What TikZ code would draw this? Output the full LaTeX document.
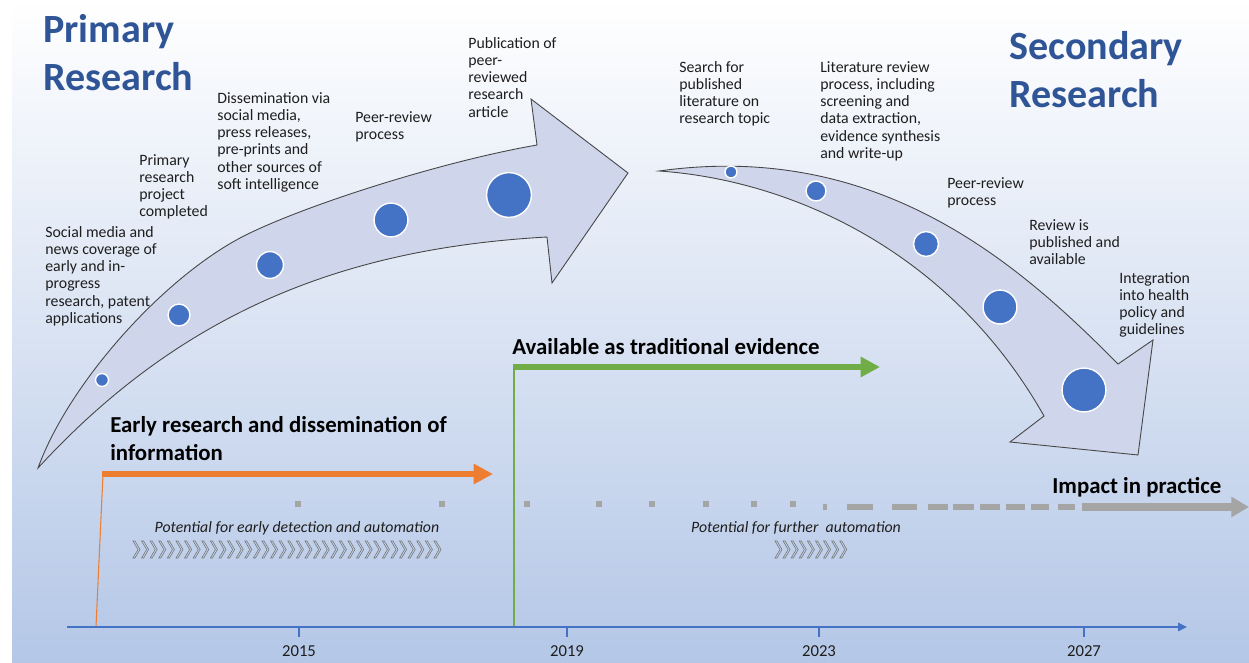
\documentclass[tikz,border=0pt]{standalone}
\usepackage{fontspec}
\setmainfont{Carlito}
\usepackage{tikz}
\usetikzlibrary{arrows.meta}

\definecolor{bgblue}{RGB}{180,199,231}
\definecolor{bgmid}{RGB}{236,241,249}
\definecolor{titleblue}{RGB}{47,85,151}
\definecolor{dotblue}{RGB}{68,114,196}
\definecolor{arrowfill}{RGB}{207,213,234}
\definecolor{edgegray}{RGB}{70,70,70}
\definecolor{textgray}{RGB}{30,30,30}
\definecolor{phaseorange}{RGB}{237,125,49}
\definecolor{phasegreen}{RGB}{112,173,71}
\definecolor{dashgray}{RGB}{165,165,165}
\definecolor{chevgray}{RGB}{120,120,120}

\begin{document}
\begin{tikzpicture}[
  x=0.02cm, y=-0.02cm,
  note/.style={anchor=north west, inner sep=0pt, align=left, text=textgray,
    font=\fontsize{9}{9.8}\selectfont},
  title/.style={anchor=north west, inner sep=0pt, align=left, text=titleblue,
    font=\fontsize{22.8}{27.2}\selectfont\bfseries},
  phase/.style={anchor=north west, inner sep=0pt, align=left, text=black,
    font=\fontsize{13}{16}\selectfont\bfseries},
  hint/.style={anchor=base, inner sep=0pt, text=textgray,
    font=\fontsize{9}{10}\selectfont\itshape},
  year/.style={inner sep=0pt, text=textgray, font=\fontsize{9.5}{10}\selectfont},
  dot/.style={circle, fill=dotblue, draw=white, line width=0.8pt, inner sep=0pt},
  bigarrow/.style={fill=arrowfill, draw=edgegray, line width=0.5pt, line join=miter},
  chev/.style={draw=chevgray, line width=0.35pt},
  phasearrow/.style={-{Triangle[length=11pt, width=11pt]}, line width=3.8pt},
  axis/.style={-{Triangle[length=5pt, width=4.5pt]}, draw=dotblue, line width=1.3pt}
]
  \useasboundingbox (0,0) rectangle (1249,663);
  \fill[white] (0,0) rectangle (1249,663);
  \shade[top color=white, middle color=bgmid, bottom color=bgblue] (12,0) rectangle (1249,663);

  \filldraw[bigarrow] (38,468) .. controls (70,380) and (170,270) .. (252,232)
    .. controls (320,200) and (450,160) .. (537,145)
    -- (531,99) -- (628,173) -- (552,283) -- (547,237)
    .. controls (350,248) and (185,308) .. (38,468) -- cycle;
  \filldraw[bigarrow] (659,171) .. controls (880,140) and (1020,265) .. (1118,364)
    -- (1153,340) -- (1138,455) -- (1010,442) -- (1044,416)
    .. controls (950,250) and (790,180) .. (659,171) -- cycle;

  \node[dot, minimum size=13pt*0.567] (d1) at (102,380) {};
  \node[dot, minimum size=22pt*0.567] (d2) at (179,315) {};
  \node[dot, minimum size=27pt*0.567] (d3) at (270,265) {};
  \node[dot, minimum size=34pt*0.567] (d4) at (391,220) {};
  \node[dot, minimum size=45pt*0.567] (d5) at (509,195) {};
  \node[dot, minimum size=12pt*0.567] (e1) at (731,172) {};
  \node[dot, minimum size=20pt*0.567] (e2) at (816,191) {};
  \node[dot, minimum size=25pt*0.567] (e3) at (926,244) {};
  \node[dot, minimum size=34pt*0.567] (e4) at (1000,307) {};
  \node[dot, minimum size=44pt*0.567] (e5) at (1084,390) {};

  \node[title] (prim) at (43,14) {Primary\\Research};
  \node[title] (sec) at (1009,31) {Secondary\\Research};

  \node[note] (t1) at (45,226) {Social media and\\news coverage of\\early and in-\\progress\\research, patent\\applications};
  \node[note] (t2) at (139,154) {Primary\\research\\project\\completed};
  \node[note] (t3) at (217,92) {Dissemination via\\social media,\\press releases,\\pre-prints and\\other sources of\\soft intelligence};
  \node[note] (t4) at (355,111) {Peer-review\\process};
  \node[note] (t5) at (468,37) {Publication of\\peer-\\reviewed\\research\\article};
  \node[note] (t6) at (679,61) {Search for\\published\\literature on\\research topic};
  \node[note] (t7) at (820,61) {Literature review\\process, including\\screening and\\data extraction,\\evidence synthesis\\and write-up};
  \node[note] (t8) at (947,177) {Peer-review\\process};
  \node[note] (t9) at (1029,219) {Review is\\published and\\available};
  \node[note] (t10) at (1119,272) {Integration\\into health\\policy and\\guidelines};

  \coordinate (o0) at (96,627);
  \coordinate (o1) at (103,474);
  \coordinate (o2) at (493,474);
  \coordinate (g0) at (514,627);
  \coordinate (g1) at (514,367);
  \coordinate (g2) at (880,367);
  \draw[phaseorange, line width=0.6pt] (o0) -- (o1);
  \draw[phasearrow, draw=phaseorange, fill=phaseorange] ([xshift=-0.3pt]o1) -- (o2);
  \draw[phasegreen, line width=0.6pt] (g0) -- (g1);
  \draw[phasearrow, draw=phasegreen, fill=phasegreen] ([xshift=-0.3pt]g1) -- (g2);
  \node[phase] (early) at (110,416) {Early research and dissemination of\\information};
  \node[phase] (avail) at (512,338) {Available as traditional evidence};
  \node[phase] (impact) at (1052,477) {Impact in practice};

  \foreach \x in {298,442,527,599,652,706,754,793}
    \fill[dashgray] (\x-3,501) rectangle (\x+3,507);
  \fill[dashgray] (823,504) rectangle (827,510);
  \foreach \a/\b in {847/873,892/917,928/948,953/974,980/1000,1006/1025,1031/1049,1058/1075}
    \fill[dashgray] (\a,504) rectangle (\b,510);
  \coordinate (p0) at (1082,507);
  \coordinate (p1) at (1249,507);
  \draw[-{Triangle[length=10pt, width=11pt]}, draw=dashgray, fill=dashgray, line width=4pt] (p0) -- (p1);

  \node[hint] (h1) at (297,532) {Potential for early detection and automation};
  \node[hint] (h2) at (796,532) {Potential for further\ \ automation};
  \foreach \i in {0,...,35}
    \draw[chev] ({133+8.6*\i},541) -- ++(2,0) -- ++(5,8.5) -- ++(-5,8.5) -- ++(-2,0) -- ++(5,-8.5) -- cycle;
  \foreach \i in {0,...,8}
    \draw[chev] ({775+8.1*\i},541) -- ++(2,0) -- ++(5,8.5) -- ++(-5,8.5) -- ++(-2,0) -- ++(5,-8.5) -- cycle;

  \coordinate (a0) at (67,627);
  \coordinate (a1) at (1187,627);
  \draw[axis] (a0) -- (a1);
  \foreach \x/\yr in {299/2015,567/2019,819/2023,1084/2027} {
    \draw[dotblue, line width=0.7pt] (\x,627) -- (\x,637);
    \node[year] (y\yr) at (\x,651) {\yr};
  }
\end{tikzpicture}
\end{document}
